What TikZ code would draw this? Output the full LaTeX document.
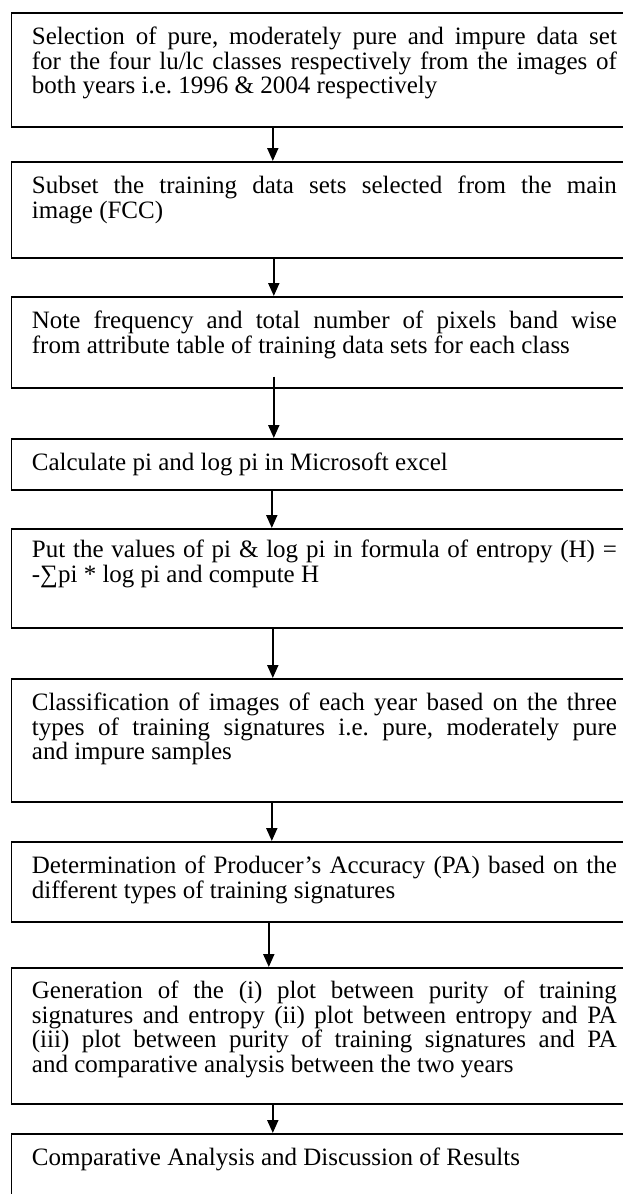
\documentclass[tikz,border=0pt]{standalone}
\usepackage{fontspec}
\setmainfont{Liberation Serif}
\usetikzlibrary{arrows.meta}

\tikzset{
  flowbox/.style={draw, line width=1.6pt, anchor=north west, inner sep=0pt, minimum width=640pt},
  flowtext/.style={anchor=north west, inner sep=0pt, text width=585pt, align=justify,
                   font=\fontsize{25}{24.5}\selectfont\frenchspacing},
  flowarrow/.style={line width=2pt, -{Triangle[length=13pt,width=11pt]}}
}

\begin{document}
\begin{tikzpicture}[x=1pt,y=1pt]
  \useasboundingbox (0,0) rectangle (623,-1194);
  \clip (0,0) rectangle (623,-1194);

  % Drawing box 1 (selection of data sets)
  \node [flowbox, minimum height=114pt] (b1) at (10.7,-12) {};%
  \node [flowtext] (t1) at ([shift={(21pt,-15pt)}]b1.north west)
    {Selection of pure, moderately pure and impure data set\linebreak
     for the four lu/lc classes respectively from the images of\linebreak
     both years i.e. 1996 \& 2004 respectively};%

  % Drawing box 2 (subset)
  \node [flowbox, minimum height=96pt] (b2) at (10.7,-161) {};%
  \node [flowtext] (t2) at ([shift={(21pt,-15pt)}]b2.north west)
    {Subset the training data sets selected from the main\linebreak
     image (FCC)};%

  % Drawing box 3 (frequency)
  \node [flowbox, minimum height=91pt] (b3) at (10.7,-296) {};%
  \node [flowtext] (t3) at ([shift={(21pt,-15pt)}]b3.north west)
    {Note frequency and total number of pixels band wise\linebreak
     from attribute table of training data sets for each class};%

  % Drawing box 4 (pi and log pi)
  \node [flowbox, minimum height=51pt] (b4) at (10.7,-438) {};%
  \node [flowtext] (t4) at ([shift={(21pt,-15pt)}]b4.north west)
    {Calculate pi and log pi in Microsoft excel};%

  % Drawing box 5 (entropy)
  \node [flowbox, minimum height=99pt] (b5) at (10.7,-528) {};%
  \node [flowtext] (t5) at ([shift={(21pt,-12pt)}]b5.north west)
    {Put the values of pi \& log pi in formula of entropy (H) =\linebreak
     -∑pi * log pi and compute H};%

  % Drawing box 6 (classification)
  \node [flowbox, minimum height=123pt] (b6) at (10.7,-678) {};%
  \node [flowtext] (t6) at ([shift={(21pt,-15pt)}]b6.north west)
    {Classification of images of each year based on the three\linebreak
     types of training signatures i.e. pure, moderately pure\linebreak
     and impure samples};%

  % Drawing box 7 (producer's accuracy)
  \node [flowbox, minimum height=80pt] (b7) at (10.7,-841) {};%
  \node [flowtext] (t7) at ([shift={(21pt,-15pt)}]b7.north west)
    {Determination of Producer’s Accuracy (PA) based on the\linebreak
     different types of training signatures};%

  % Drawing box 8 (plots)
  \node [flowbox, minimum height=136pt] (b8) at (10.7,-967) {};%
  \node [flowtext] (t8) at ([shift={(21pt,-14pt)}]b8.north west)
    {Generation of the (i) plot between purity of training\linebreak
     signatures and entropy (ii) plot between entropy and PA\linebreak
     (iii) plot between purity of training signatures and PA\linebreak
     and comparative analysis between the two years};%

  % Drawing box 9 (results)
  \node [flowbox, minimum height=100pt] (b9) at (10.7,-1133) {};%
  \node [flowtext] (t9) at ([shift={(21pt,-15pt)}]b9.north west)
    {Comparative Analysis and Discussion of Results};%

  % Drawing arrows between the boxes
  \draw [flowarrow] ([xshift=-58.7pt]b1.south) -- ([xshift=-58.7pt]b2.north);%
  \draw [flowarrow] ([xshift=-57.7pt]b2.south) -- ([xshift=-57.7pt]b3.north);%
  \draw [flowarrow] ([shift={(-57.7pt,12pt)}]b3.south) -- ([xshift=-57.7pt]b4.north);%
  \draw [flowarrow] ([xshift=-59.7pt]b4.south) -- ([xshift=-59.7pt]b5.north);%
  \draw [flowarrow] ([xshift=-58.7pt]b5.south) -- ([xshift=-58.7pt]b6.north);%
  \draw [flowarrow] ([xshift=-59.7pt]b6.south) -- ([xshift=-59.7pt]b7.north);%
  \draw [flowarrow] ([xshift=-62.7pt]b7.south) -- ([xshift=-62.7pt]b8.north);%
  \draw [flowarrow] ([xshift=-58.7pt]b8.south) -- ([xshift=-58.7pt]b9.north);%
\end{tikzpicture}
\end{document}
